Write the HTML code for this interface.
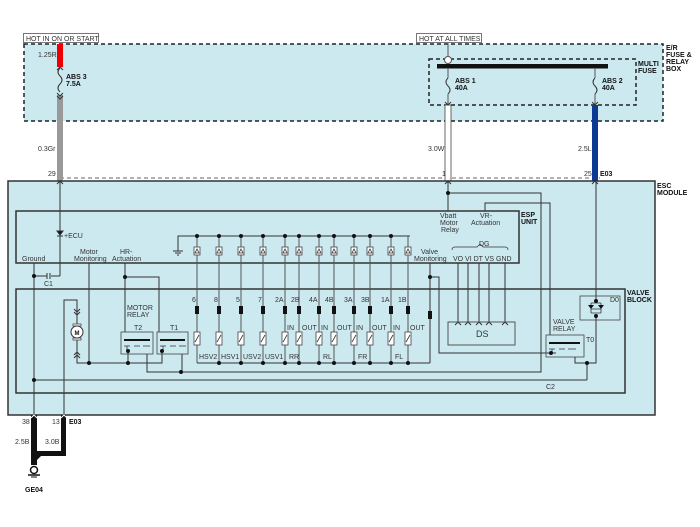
<!DOCTYPE html>
<html><head><meta charset="utf-8"><style>
html,body{margin:0;padding:0;background:#fff;}
svg{display:block;}
text{font-family:"Liberation Sans",sans-serif;font-size:7px;fill:#333;}
.b{font-weight:bold;fill:#111;}
</style></head><body>
<svg width="700" height="527" viewBox="0 0 700 527" xmlns="http://www.w3.org/2000/svg">
<rect x="24" y="44" width="639" height="77" fill="#cce9f0" stroke="#222" stroke-width="1.5" stroke-dasharray="4,3"/>
<rect x="23.5" y="33.5" width="75" height="9" fill="#fff" stroke="#555" stroke-width="0.8"/>
<text x="26" y="41">HOT IN ON OR START</text>
<rect x="416.5" y="33.5" width="65" height="9" fill="#fff" stroke="#555" stroke-width="0.8"/>
<text x="419" y="41">HOT AT ALL TIMES</text>
<text class="b" x="666" y="50">E/R</text>
<text class="b" x="666" y="57">FUSE &amp;</text>
<text class="b" x="666" y="64">RELAY</text>
<text class="b" x="666" y="71">BOX</text>
<rect x="429" y="59" width="207" height="46" fill="none" stroke="#222" stroke-width="1.5" stroke-dasharray="4,3"/>
<text class="b" x="638" y="66">MULTI</text>
<text class="b" x="638" y="73">FUSE</text>
<rect x="437" y="64" width="171" height="4.5" fill="#111"/>
<line x1="448" y1="43" x2="448" y2="57" stroke="#555" stroke-width="1"/>
<circle cx="448" cy="60" r="3.5" fill="#fff" stroke="#555"/>
<line x1="60" y1="178" x2="600" y2="178" stroke="#666" stroke-width="1" stroke-dasharray="4,3"/>
<rect x="57" y="44" width="6" height="23" fill="#e00"/>
<rect x="57" y="95" width="6" height="86" fill="#999"/>
<path d="M60 68 q-4 4 0 8 q4 4 0 8 q-4 4 0 8" fill="none" stroke="#333"/>
<path d="M57 70 l3-3 3 3 M57 93 l3 3 3-3 M57 96 l3 3 3-3" fill="none" stroke="#333"/>
<text class="b" x="66" y="79">ABS 3</text><text class="b" x="66" y="86">7.5A</text>
<text x="38" y="57">1.25R</text><text x="38" y="151">0.3Gr</text><text x="48" y="176">29</text>
<line x1="448" y1="68" x2="448" y2="78" stroke="#555"/>
<path d="M448 78 q-4 4 0 8 q4 4 0 8" fill="none" stroke="#333"/>
<line x1="448" y1="94" x2="448" y2="104" stroke="#555"/>
<rect x="445" y="105" width="6" height="76" fill="#fff" stroke="#444" stroke-width="0.8"/>
<text class="b" x="455" y="83">ABS 1</text><text class="b" x="455" y="90">40A</text>
<line x1="595" y1="68" x2="595" y2="78" stroke="#555"/>
<path d="M595 78 q-4 4 0 8 q4 4 0 8" fill="none" stroke="#333"/>
<line x1="595" y1="94" x2="595" y2="104" stroke="#555"/>
<rect x="592" y="105" width="6" height="76" fill="#0a3a94"/>
<path d="M445 102 l3 3 3-3 M592 102 l3 3 3-3" fill="none" stroke="#333"/>
<text class="b" x="602" y="83">ABS 2</text><text class="b" x="602" y="90">40A</text>
<text x="428" y="151">3.0W</text><text x="442" y="176">1</text>
<text x="578" y="151">2.5L</text><text x="584" y="176">25</text><text class="b" x="600" y="176">E03</text>
<rect x="8" y="181" width="647" height="234" fill="#cce9f0" stroke="#333" stroke-width="1.5"/>
<text class="b" x="657" y="188">ESC</text><text class="b" x="657" y="195">MODULE</text>
<path d="M57 184 l3-3 3 3 M445 184 l3-3 3 3 M592 184 l3-3 3 3" fill="none" stroke="#333"/>
<rect x="16" y="211" width="503" height="52" fill="none" stroke="#333" stroke-width="1.5"/>
<text class="b" x="521" y="217">ESP</text><text class="b" x="521" y="224">UNIT</text>
<rect x="16" y="289" width="609" height="104" fill="none" stroke="#333" stroke-width="1.5"/>
<text class="b" x="627" y="295">VALVE</text><text class="b" x="627" y="302">BLOCK</text>
<g stroke="#333" stroke-width="1" fill="none">
<line x1="60" y1="181" x2="60" y2="276"/>
<path d="M57 231 h6 l-3 4 z" fill="#111"/><line x1="57" y1="236" x2="63" y2="236"/>
<line x1="34" y1="263" x2="34" y2="415"/>
<line x1="34" y1="276" x2="47" y2="276"/><line x1="51" y1="276" x2="60" y2="276"/>
<line x1="47" y1="273" x2="47" y2="279"/><line x1="50" y1="273" x2="50" y2="279"/>
<line x1="89" y1="263" x2="89" y2="363"/>
<line x1="125" y1="263" x2="125" y2="332"/>
<polyline points="125,277 159,277 159,332"/>
<polyline points="64,415 64,300 77,300 77,326"/>
<path d="M74 309 l3 3 3-3 M74 312 l3 3 3-3 M74 355 l3-3 3 3 M74 358 l3-3 3 3"/>
<polyline points="77,338 77,363 162,363 162,351"/>
<line x1="128" y1="351" x2="128" y2="363"/>
<polyline points="147,354 147,372 541,372 541,193 448,193"/>
<line x1="182" y1="354" x2="182" y2="372"/>
<line x1="34" y1="380" x2="587" y2="380"/>
<polyline points="178,251 178,236 410,236"/>
<line x1="173" y1="251" x2="183" y2="251"/><line x1="175" y1="253" x2="181" y2="253"/><line x1="177" y1="255" x2="179" y2="255"/>
<line x1="448" y1="181" x2="448" y2="211"/>
<polyline points="485,211 485,203 550,203 550,335"/>
<line x1="430" y1="263" x2="430" y2="363"/>
<polyline points="430,277 439,277 439,353 556,353"/>
<line x1="458" y1="263" x2="458" y2="322"/><line x1="468" y1="263" x2="468" y2="322"/>
<line x1="479" y1="263" x2="479" y2="322"/><line x1="489" y1="263" x2="489" y2="322"/>
<line x1="505" y1="263" x2="505" y2="322"/>
<path d="M455 325 l3-3 3 3 M465 325 l3-3 3 3 M476 325 l3-3 3 3 M486 325 l3-3 3 3 M502 325 l3-3 3 3"/>
<path d="M452 250 q0-3 3-3 h22 l3-3 3 3 h22 q3 0 3 3" stroke-width="0.7"/>
<line x1="596" y1="181" x2="596" y2="301"/>
<polyline points="596,316 596,363 575,363 575,357"/>
<polyline points="587,363 587,380"/>
<!-- relay contacts -->
<path d="M124 346 h6 M127 346 v5 M134 346 h6 M143 346 h7 M160 346 h6 M163 346 v5 M170 346 h6 M179 346 h7 M549 349 h6 M552 349 v4 M559 349 h6 M568 349 h8" stroke-width="0.8"/>
<path d="M591 309 h10 M591 303 v10 M601 303 v10 M591 303 h10 M591 313 h10" stroke-width="0.8"/>
</g>
<rect x="448" y="322" width="67" height="23" fill="none" stroke="#555" stroke-width="1"/>
<text x="476" y="337" style="font-size:9px">DS</text>
<rect x="73" y="324" width="8" height="2" fill="#fff" stroke="#333" stroke-width="0.7"/>
<rect x="73" y="338" width="8" height="2" fill="#fff" stroke="#333" stroke-width="0.7"/>
<circle cx="77" cy="332" r="6" fill="#fff" stroke="#333"/>
<text class="b" x="74.5" y="335" style="font-size:6px">M</text>
<g stroke="#444" stroke-width="0.8" fill="none">
<rect x="121" y="332" width="32" height="22"/><rect x="157" y="332" width="31" height="22"/>
<rect x="546" y="335" width="38" height="22"/>
<rect x="580" y="296" width="40" height="24"/>
</g>
<rect x="124" y="339" width="26" height="2" fill="#111"/><rect x="160" y="339" width="25" height="2" fill="#111"/>
<rect x="549" y="342" width="31" height="2" fill="#111"/>
<text x="134" y="330">T2</text><text x="170" y="330">T1</text>
<text x="127" y="310">MOTOR</text><text x="127" y="317">RELAY</text>
<text x="553" y="324">VALVE</text><text x="553" y="331">RELAY</text><text x="586" y="342">T0</text><text x="610" y="302">D0</text>
<path d="M588 305 h6 l-3 4 z M598 305 h6 l-3 4 z" fill="#111"/>
<g stroke="#555" stroke-width="1" fill="none">
<line x1="197" y1="236" x2="197" y2="363"/><line x1="219" y1="236" x2="219" y2="363"/>
<line x1="241" y1="236" x2="241" y2="363"/><line x1="263" y1="236" x2="263" y2="363"/>
<line x1="285" y1="236" x2="285" y2="363"/><line x1="299" y1="236" x2="299" y2="363"/>
<line x1="319" y1="236" x2="319" y2="363"/><line x1="334" y1="236" x2="334" y2="363"/>
<line x1="354" y1="236" x2="354" y2="363"/><line x1="370" y1="236" x2="370" y2="363"/>
<line x1="391" y1="236" x2="391" y2="363"/><line x1="408" y1="236" x2="408" y2="363"/>
<line x1="197" y1="363" x2="430" y2="363" stroke="#333"/>
</g>
<g fill="#fff" stroke="#444" stroke-width="0.8">
<rect x="194" y="247" width="6" height="8"/><rect x="216" y="247" width="6" height="8"/><rect x="238" y="247" width="6" height="8"/><rect x="260" y="247" width="6" height="8"/><rect x="282" y="247" width="6" height="8"/><rect x="296" y="247" width="6" height="8"/><rect x="316" y="247" width="6" height="8"/><rect x="331" y="247" width="6" height="8"/><rect x="351" y="247" width="6" height="8"/><rect x="367" y="247" width="6" height="8"/><rect x="388" y="247" width="6" height="8"/><rect x="405" y="247" width="6" height="8"/>
<rect x="194" y="332" width="6" height="13"/><rect x="216" y="332" width="6" height="13"/><rect x="238" y="332" width="6" height="13"/><rect x="260" y="332" width="6" height="13"/><rect x="282" y="332" width="6" height="13"/><rect x="296" y="332" width="6" height="13"/><rect x="316" y="332" width="6" height="13"/><rect x="331" y="332" width="6" height="13"/><rect x="351" y="332" width="6" height="13"/><rect x="367" y="332" width="6" height="13"/><rect x="388" y="332" width="6" height="13"/><rect x="405" y="332" width="6" height="13"/>
</g>
<g stroke="#333" stroke-width="0.8" fill="none">
<path d="M195 342 l4-7 M217 342 l4-7 M239 342 l4-7 M261 342 l4-7 M283 342 l4-7 M297 342 l4-7 M317 342 l4-7 M332 342 l4-7 M352 342 l4-7 M368 342 l4-7 M389 342 l4-7 M406 342 l4-7"/>
<path d="M195 253 l2-4 2 4z M217 253 l2-4 2 4z M239 253 l2-4 2 4z M261 253 l2-4 2 4z M283 253 l2-4 2 4z M297 253 l2-4 2 4z M317 253 l2-4 2 4z M332 253 l2-4 2 4z M352 253 l2-4 2 4z M368 253 l2-4 2 4z M389 253 l2-4 2 4z M406 253 l2-4 2 4z"/>
</g>
<g fill="#111">
<rect x="195" y="306" width="4" height="8"/><rect x="217" y="306" width="4" height="8"/><rect x="239" y="306" width="4" height="8"/><rect x="261" y="306" width="4" height="8"/><rect x="283" y="306" width="4" height="8"/><rect x="297" y="306" width="4" height="8"/><rect x="317" y="306" width="4" height="8"/><rect x="332" y="306" width="4" height="8"/><rect x="352" y="306" width="4" height="8"/><rect x="368" y="306" width="4" height="8"/><rect x="389" y="306" width="4" height="8"/><rect x="406" y="306" width="4" height="8"/><rect x="428" y="311" width="4" height="8"/>
<circle cx="219" cy="236" r="2"/><circle cx="197" cy="236" r="2"/><circle cx="241" cy="236" r="2"/><circle cx="263" cy="236" r="2"/><circle cx="285" cy="236" r="2"/><circle cx="299" cy="236" r="2"/><circle cx="319" cy="236" r="2"/><circle cx="334" cy="236" r="2"/><circle cx="354" cy="236" r="2"/><circle cx="370" cy="236" r="2"/><circle cx="391" cy="236" r="2"/>
<circle cx="219" cy="363" r="2"/><circle cx="241" cy="363" r="2"/><circle cx="263" cy="363" r="2"/><circle cx="285" cy="363" r="2"/><circle cx="299" cy="363" r="2"/><circle cx="319" cy="363" r="2"/><circle cx="334" cy="363" r="2"/><circle cx="354" cy="363" r="2"/><circle cx="370" cy="363" r="2"/><circle cx="391" cy="363" r="2"/><circle cx="408" cy="363" r="2"/>
<circle cx="34" cy="276" r="2"/><circle cx="34" cy="380" r="2"/><circle cx="125" cy="277" r="2"/>
<circle cx="89" cy="363" r="2"/><circle cx="128" cy="363" r="2"/><circle cx="128" cy="351" r="2"/><circle cx="162" cy="351" r="2"/>
<circle cx="181" cy="372" r="2"/><circle cx="448" cy="193" r="2"/><circle cx="430" cy="277" r="2"/>
<circle cx="596" cy="301" r="2"/><circle cx="596" cy="316" r="2"/><circle cx="587" cy="363" r="2"/><circle cx="551" cy="353" r="2"/>
</g>
<text x="192" y="302">6</text><text x="214" y="302">8</text><text x="236" y="302">5</text><text x="258" y="302">7</text>
<text x="275" y="302">2A</text><text x="291" y="302">2B</text><text x="309" y="302">4A</text><text x="325" y="302">4B</text>
<text x="344" y="302">3A</text><text x="361" y="302">3B</text><text x="381" y="302">1A</text><text x="398" y="302">1B</text>
<text x="287" y="330">IN</text><text x="302" y="330">OUT</text><text x="321" y="330">IN</text><text x="337" y="330">OUT</text>
<text x="356" y="330">IN</text><text x="372" y="330">OUT</text><text x="393" y="330">IN</text><text x="410" y="330">OUT</text>
<text x="199" y="359">HSV2</text><text x="221" y="359">HSV1</text><text x="243" y="359">USV2</text><text x="265" y="359">USV1</text>
<text x="289" y="359">RR</text><text x="323" y="359">RL</text><text x="358" y="359">FR</text><text x="395" y="359">FL</text>
<text x="64" y="238">+ECU</text><text x="22" y="261">Ground</text>
<text x="80" y="254">Motor</text><text x="74" y="261">Monitoring</text>
<text x="120" y="254">HR-</text><text x="112" y="261">Actuation</text>
<text x="440" y="218">Vbatt</text><text x="440" y="225">Motor</text><text x="441" y="232">Relay</text>
<text x="480" y="218">VR-</text><text x="471" y="225">Actuation</text>
<text x="421" y="254">Valve</text><text x="414" y="261">Monitoring</text>
<text x="479" y="246">DG</text><text x="453" y="261">VO  VI  DT VS GND</text>
<text x="44" y="286">C1</text><text x="546" y="389">C2</text>
<path d="M31 415 v50 h6 v-5 l4 -4 h25 v-41 h-5 v36 h-24 v-36 z" fill="#111"/>
<path d="M31 418 l3-3 3 3 M61 418 l3-3 3 3" fill="none" stroke="#fff"/>
<text x="22" y="424">38</text><text x="52" y="424">13</text><text class="b" x="69" y="424">E03</text>
<text x="15" y="444">2.5B</text><text x="45" y="444">3.0B</text>
<circle cx="34" cy="470" r="3.5" fill="#fff" stroke="#111" stroke-width="1.5"/>
<line x1="28" y1="475" x2="40" y2="475" stroke="#111" stroke-width="1.5"/>
<line x1="31" y1="477" x2="37" y2="477" stroke="#111"/>
<text class="b" x="25" y="492">GE04</text>
</svg>
</body></html>
